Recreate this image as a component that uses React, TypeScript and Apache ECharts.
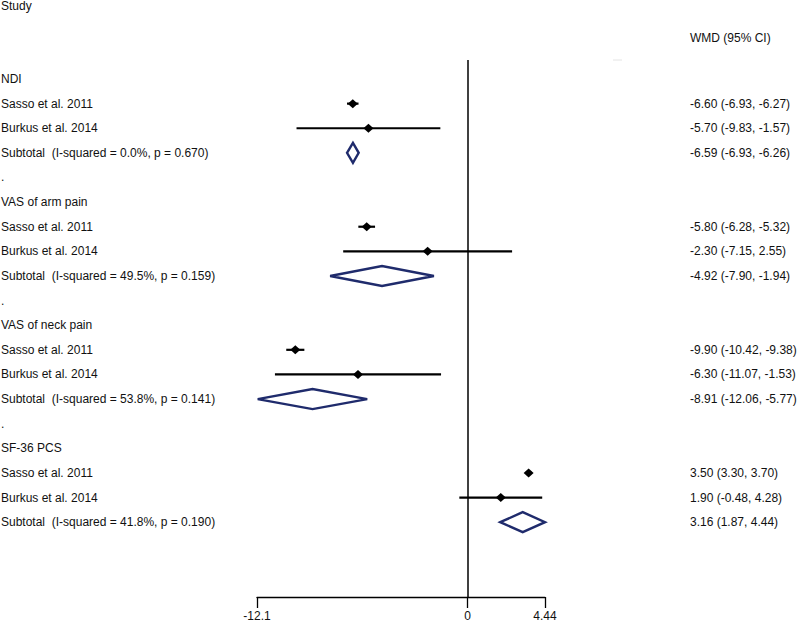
import React, { useEffect, useRef } from 'react';
import * as echarts from 'echarts';

// ---- data ----
const rowLabels = [
  'NDI',
  'Sasso et al. 2011',
  'Burkus et al. 2014',
  'Subtotal\u00A0 (I-squared = 0.0%, p = 0.670)',
  '.',
  'VAS of arm pain',
  'Sasso et al. 2011',
  'Burkus et al. 2014',
  'Subtotal\u00A0 (I-squared = 49.5%, p = 0.159)',
  '.',
  'VAS of neck pain',
  'Sasso et al. 2011',
  'Burkus et al. 2014',
  'Subtotal\u00A0 (I-squared = 53.8%, p = 0.141)',
  '.',
  'SF-36 PCS',
  'Sasso et al. 2011',
  'Burkus et al. 2014',
  'Subtotal\u00A0 (I-squared = 41.8%, p = 0.190)',
];

const studyRows = [1, 2, 6, 7, 11, 12, 16, 17];
const studyEst = [-6.6, -5.7, -5.8, -2.3, -9.9, -6.3, 3.5, 1.9];
const studyLo = [-6.93, -9.83, -6.28, -7.15, -10.42, -11.07, 3.3, -0.48];
const studyHi = [-6.27, -1.57, -5.32, 2.55, -9.38, -1.53, 3.7, 4.28];

const subtotalRows = [3, 8, 13, 18];
const subtotalEst = [-6.59, -4.92, -8.91, 3.16];
const subtotalLo = [-6.93, -7.9, -12.06, 1.87];
const subtotalHi = [-6.26, -1.94, -5.77, 4.44];

const xTicks = [-12.1, 0, 4.44];
const xTickLabels = ['-12.1', '0', '4.44'];

const FONT = 'Liberation Sans, Arial, sans-serif';
const TEXT = '#111';
const NAVY = '#1f2b6c';

const fmt = (e: number, lo: number, hi: number) =>
  `${e.toFixed(2)} (${lo.toFixed(2)}, ${hi.toFixed(2)})`;

const rightLabels: string[] = rowLabels.map(() => '');
studyRows.forEach((r, i) => (rightLabels[r] = fmt(studyEst[i], studyLo[i], studyHi[i])));
subtotalRows.forEach((r, i) => (rightLabels[r] = fmt(subtotalEst[i], subtotalLo[i], subtotalHi[i])));

const rowIdx = rowLabels.map((_, i) => i);

export default function App() {
  const ref = useRef<HTMLDivElement>(null);
  useEffect(() => {
    document.body.style.margin = '0';
    if (!ref.current) return;
    const chart = echarts.init(ref.current, null, { renderer: 'svg' });

    const studyData = studyRows.map((r, i) => [r, studyEst[i], studyLo[i], studyHi[i]]);
    const subData = subtotalRows.map((r, i) => [r, subtotalEst[i], subtotalLo[i], subtotalHi[i]]);

    const yCommon = {
      type: 'value',
      min: -0.772,
      max: 21.04,
      inverse: true,
      axisLine: { show: false },
      axisTick: { show: false },
      splitLine: { show: false },
    };

    chart.setOption({
      animation: false,
      backgroundColor: '#fff',
      grid: {
        left: 257,
        right: 255,
        top: 60,
        bottom: 28,
        containLabel: false,
        outerBoundsMode: 'none',
      },
      xAxis: {
        type: 'value',
        min: -12.1,
        max: 4.44,
        axisLine: { show: true, onZero: false, lineStyle: { color: '#000', width: 1.3 } },
        axisTick: {
          show: true,
          length: 11,
          customValues: xTicks,
          lineStyle: { color: '#000', width: 1.3 },
        },
        axisLabel: {
          customValues: xTicks,
          formatter: (v: number) => {
            const i = xTicks.findIndex((t) => Math.abs(t - v) < 1e-9);
            return i >= 0 ? xTickLabels[i] : '';
          },
          color: TEXT,
          fontSize: 12,
          fontFamily: FONT,
          margin: 13,
          showMinLabel: true,
          showMaxLabel: true,
        },
        splitLine: { show: false },
      },
      yAxis: [
        {
          ...yCommon,
          position: 'left',
          axisLabel: {
            customValues: rowIdx,
            formatter: (v: number) => rowLabels[Math.round(v)] ?? '',
            align: 'left',
            margin: 256,
            color: TEXT,
            fontSize: 12,
            fontFamily: FONT,
            showMinLabel: true,
            showMaxLabel: true,
          },
        },
        {
          ...yCommon,
          position: 'right',
          axisLabel: {
            customValues: rowIdx,
            formatter: (v: number) => rightLabels[Math.round(v)] ?? '',
            align: 'left',
            margin: 145,
            color: TEXT,
            fontSize: 12,
            fontFamily: FONT,
            showMinLabel: true,
            showMaxLabel: true,
          },
        },
      ],
      graphic: [
        {
          type: 'text',
          left: 1,
          top: 0,
          style: { text: 'Study', fill: TEXT, font: `12px ${FONT}` },
        },
        {
          type: 'text',
          left: 690,
          top: 32,
          style: { text: 'WMD (95% CI)', fill: TEXT, font: `12px ${FONT}` },
        },
        {
          type: 'line',
          shape: { x1: 613, y1: 60, x2: 622, y2: 60 },
          style: { stroke: '#e4e4e4', lineWidth: 1 },
        },
      ],
      series: [
        {
          type: 'custom',
          name: 'studies',
          coordinateSystem: 'cartesian2d',
          encode: { x: [1, 2, 3], y: 0 },
          data: studyData,
          renderItem: (_p: any, api: any) => {
            const y = api.value(0);
            const e = api.coord([api.value(1), y]);
            const lo = api.coord([api.value(2), y]);
            const hi = api.coord([api.value(3), y]);
            return {
              type: 'group',
              children: [
                {
                  type: 'line',
                  shape: { x1: lo[0], y1: lo[1], x2: hi[0], y2: hi[1] },
                  style: { stroke: '#000', lineWidth: 2.2 },
                },
                {
                  type: 'polygon',
                  shape: {
                    points: [
                      [e[0] - 5, e[1]],
                      [e[0], e[1] - 4.5],
                      [e[0] + 5, e[1]],
                      [e[0], e[1] + 4.5],
                    ],
                  },
                  style: { fill: '#000' },
                },
              ],
            };
          },
          markLine: {
            silent: true,
            symbol: ['none', 'none'],
            label: { show: false },
            lineStyle: { color: '#000', width: 1.5, type: 'solid' },
            data: [{ xAxis: 0 }],
          },
        },
        {
          type: 'custom',
          name: 'subtotals',
          coordinateSystem: 'cartesian2d',
          encode: { x: [1, 2, 3], y: 0 },
          data: subData,
          renderItem: (_p: any, api: any) => {
            const y = api.value(0);
            const e = api.coord([api.value(1), y]);
            const lo = api.coord([api.value(2), y]);
            const hi = api.coord([api.value(3), y]);
            return {
              type: 'polygon',
              shape: {
                points: [
                  [lo[0], lo[1]],
                  [e[0], e[1] - 10],
                  [hi[0], hi[1]],
                  [e[0], e[1] + 10],
                ],
              },
              style: { fill: 'none', stroke: NAVY, lineWidth: 2.4, lineJoin: 'miter' },
            };
          },
        },
      ],
    });
    return () => chart.dispose();
  }, []);
  return <div ref={ref} style={{ width: 800, height: 625 }} />;
}
